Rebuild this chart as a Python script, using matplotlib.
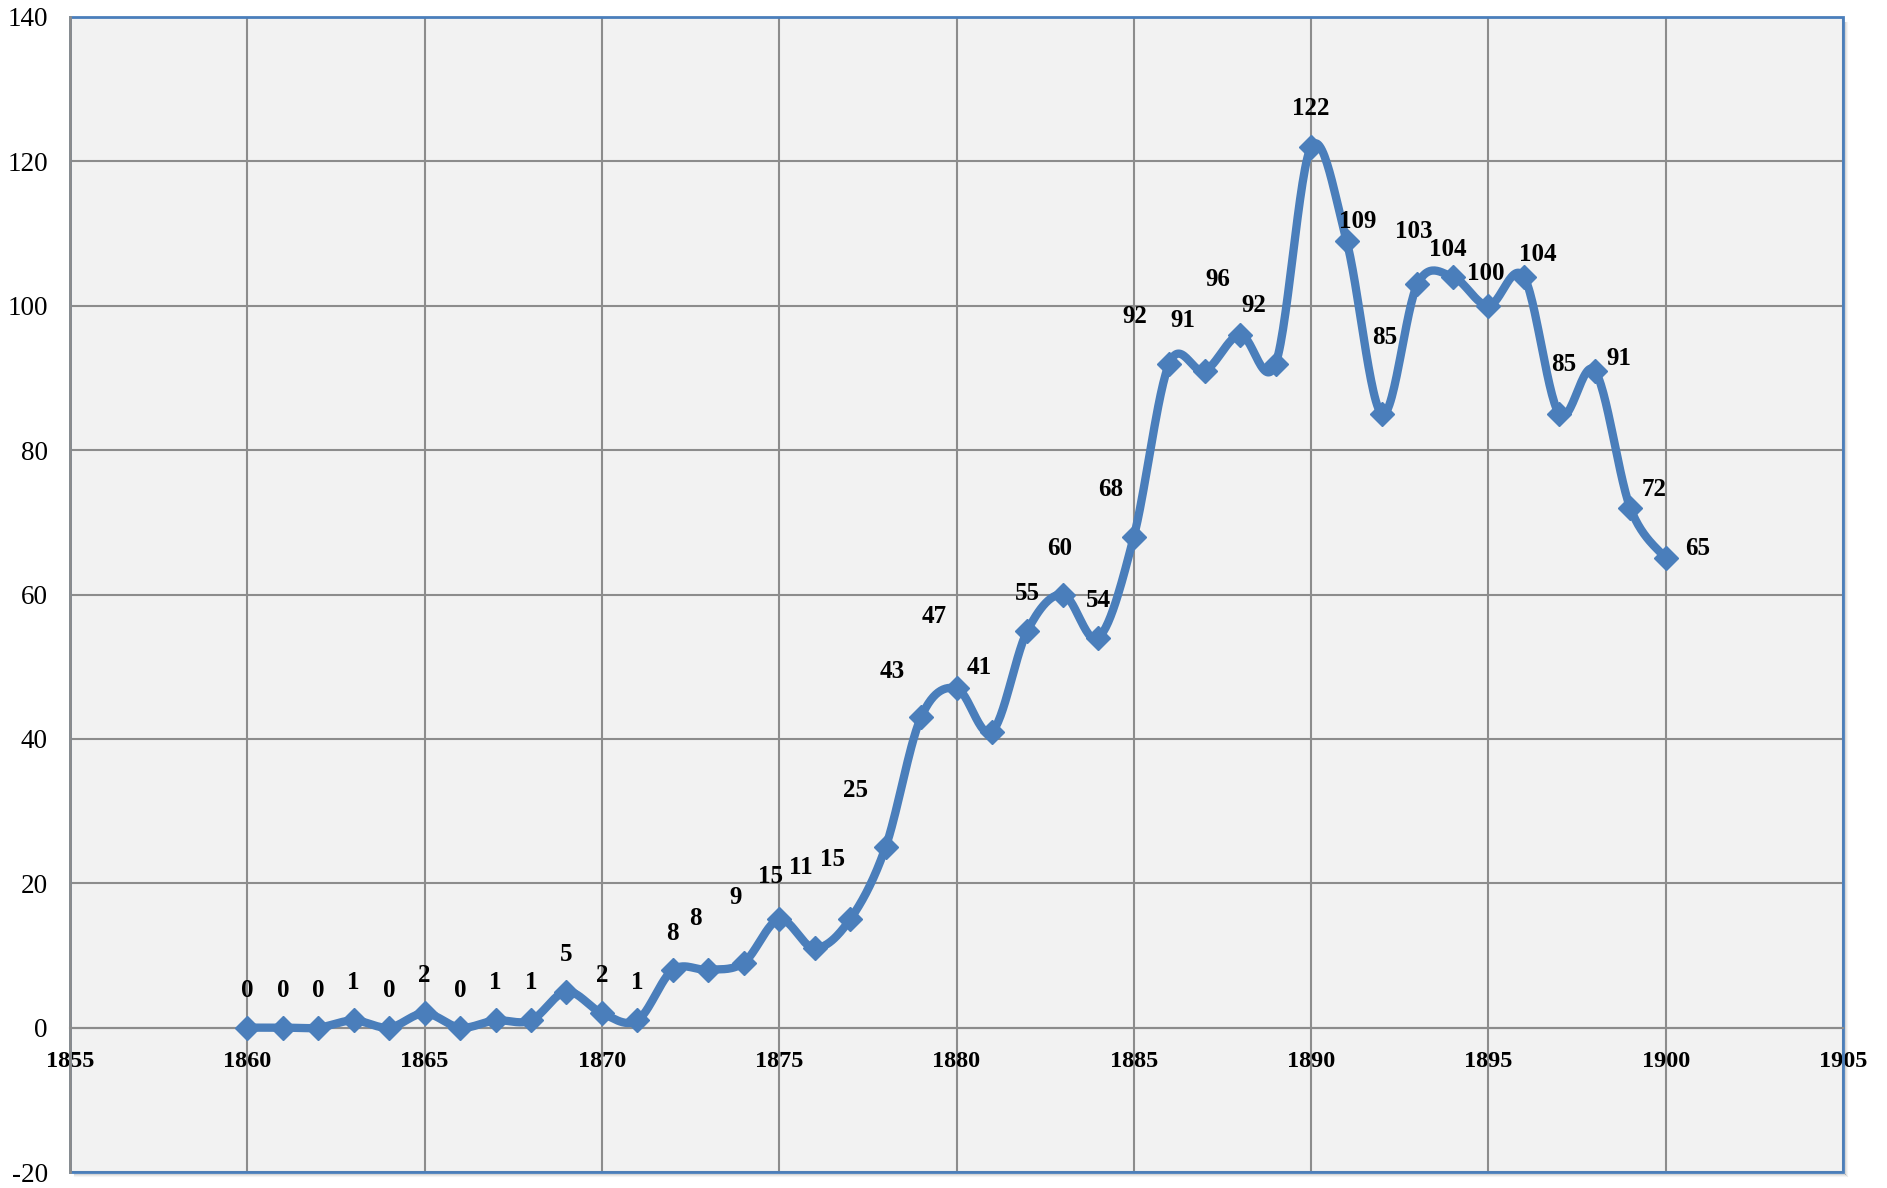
import numpy as np
import matplotlib
matplotlib.use("Agg")
import matplotlib.pyplot as plt
from matplotlib.patches import Rectangle
from matplotlib.lines import Line2D

plt.rcParams["axes.unicode_minus"] = False

# yearly counts
years = list(range(1860, 1901))
counts = [0, 0, 0, 1, 0, 2, 0, 1, 1, 5,
          2, 1, 8, 8, 9, 15, 11, 15, 25, 43,
          47, 41, 55, 60, 54, 68, 92, 91, 96, 92,
          122, 109, 85, 103, 104, 100, 104, 85, 91, 72,
          65]

# label nudges (points) so the labels sit where Excel put them
lab_dx = [0, 0, 0, 0, 0, 0, 0, 0, 0, 0,
          0, 0, 0, -9, -6, -6, -10, -13, -22, -21,
          -16, -9, 0, -2, 0, -17, -25, -16, -16, -16,
          0, 8, 2, -3, -4, -2, 10, 3, 17, 17,
          23]
lab_dy = [27, 27, 27, 27, 27, 27, 27, 27, 27, 27,
          27, 27, 26, 37, 47, 31, 58, 43, 41, 33,
          52, 46, 27, 33, 27, 34, 34, 36, 40, 42,
          28, 14, 55, 38, 20, 23, 16, 36, 9, 13,
          7]

BLUE = "#4A7EBB"
GRID = "#8C8C8C"
FONT = "Liberation Serif"
W, H = 1887, 1188


def smooth(x, y, n=30):
    # Excel-like smoothed line: cubic bezier through points, catmull-rom controls
    x = np.asarray(x, float)
    y = np.asarray(y, float)
    px = np.concatenate([[x[0]], x, [x[-1]]])
    py = np.concatenate([[y[0]], y, [y[-1]]])
    xs, ys = [], []
    t = np.linspace(0, 1, n)
    for i in range(1, len(x)):
        p0 = np.array([px[i], py[i]])
        p3 = np.array([px[i + 1], py[i + 1]])
        c1 = p0 + (np.array([px[i + 1], py[i + 1]]) - np.array([px[i - 1], py[i - 1]])) / 6
        c2 = p3 - (np.array([px[i + 2], py[i + 2]]) - np.array([px[i], py[i]])) / 6
        b = ((1 - t) ** 3)[:, None] * p0 + (3 * (1 - t) ** 2 * t)[:, None] * c1 \
            + (3 * (1 - t) * t ** 2)[:, None] * c2 + (t ** 3)[:, None] * p3
        xs.extend(b[:, 0])
        ys.extend(b[:, 1])
    return xs, ys


fig = plt.figure(figsize=(W / 100, H / 100), dpi=100)
ax = fig.add_axes([70 / W, 1 - 1172 / H, (1843 - 70) / W, (1172 - 17) / H])
ax.set_facecolor("#F2F2F2")

# faint drop shadow along bottom and right edge of the plot area
for i, a in enumerate([0.16, 0.08, 0.04]):
    yb = 1 - (1174 + i) / H
    xr = (1845 + i) / W
    fig.add_artist(Line2D([74 / W, xr], [yb, yb], color=(0, 0, 0, a), lw=0.8))
    fig.add_artist(Line2D([xr, xr], [yb, 1 - 22 / H], color=(0, 0, 0, a), lw=0.8))

sx, sy = smooth(years, counts)
ax.plot(sx, sy, color=BLUE, lw=6, solid_capstyle="round", zorder=3)
ax.plot(years, counts, ls="none", marker="D", ms=12.5, color=BLUE, zorder=4)

for x, y, dx, dy in zip(years, counts, lab_dx, lab_dy):
    ax.annotate(str(y), (x, y), xytext=(dx, dy), textcoords="offset points",
                ha="center", va="center", fontsize=18, fontweight="bold",
                family=FONT, color="black", zorder=5)

ax.set_xlim(1855, 1905)
ax.set_ylim(-20, 140)
ax.set_xticks(range(1855, 1906, 5))
ax.set_yticks(range(-20, 141, 20))
ax.grid(True, color=GRID, lw=1.5)
ax.set_axisbelow(True)

# x axis crosses at zero like in Excel
ax.spines["bottom"].set_position(("data", 0))
ax.spines["bottom"].set_color(GRID)
ax.spines["bottom"].set_linewidth(1.5)
ax.spines["left"].set_color(GRID)
ax.spines["left"].set_linewidth(2)
ax.spines["left"].set_zorder(2)
for s in ["top", "right"]:
    ax.spines[s].set_visible(False)
ax.add_patch(Rectangle((0, 0), 1, 1, transform=ax.transAxes, fill=False,
                       edgecolor=BLUE, lw=2, clip_on=False, zorder=1))

ax.tick_params(axis="both", length=0)
ax.tick_params(axis="y", pad=16)
ax.tick_params(axis="x", pad=17)
for lab in ax.get_yticklabels():
    lab.set_family(FONT)
    lab.set_fontsize(19.5)
for lab in ax.get_xticklabels():
    lab.set_family(FONT)
    lab.set_fontsize(17.5)
    lab.set_fontweight("bold")

fig.savefig("out.png", dpi=100, facecolor="white")
